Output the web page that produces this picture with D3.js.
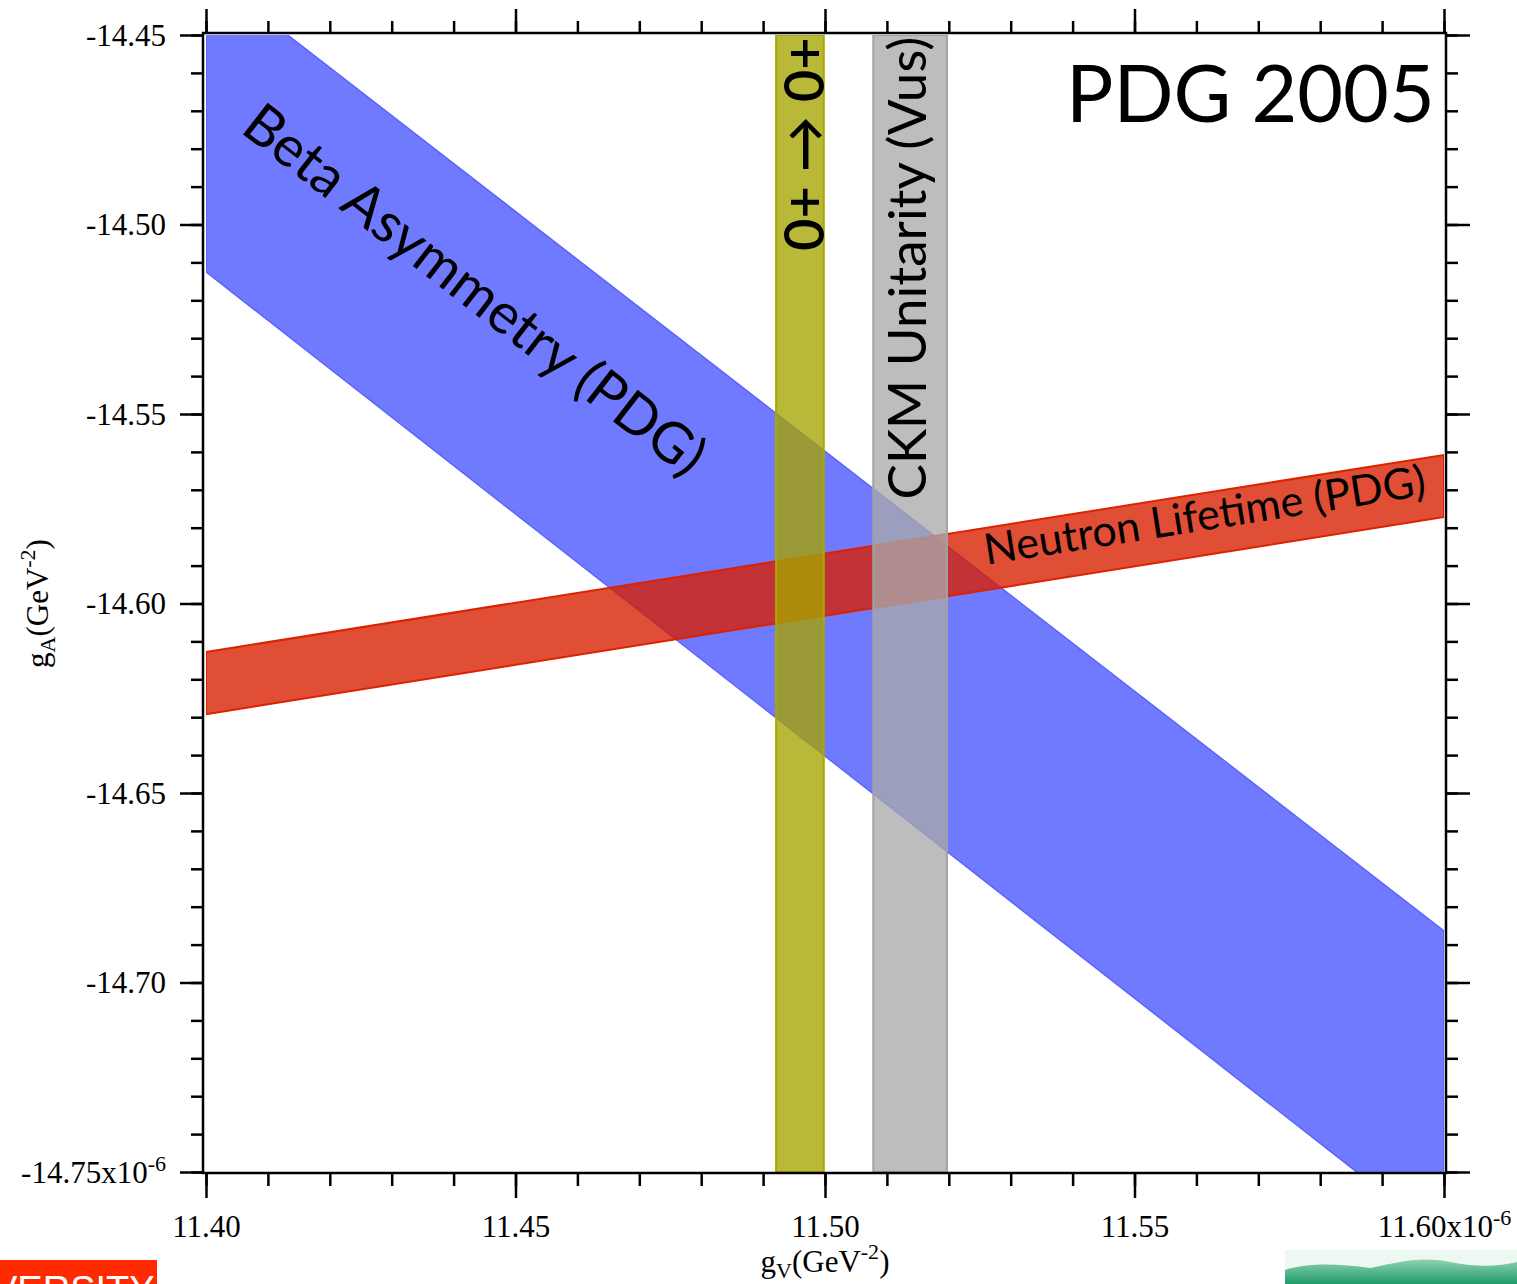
<!DOCTYPE html>
<html>
<head>
<meta charset="utf-8">
<script src="https://cdn.jsdelivr.net/npm/d3@7"></script>
<style>
  body { margin: 0; background: #fff; }
  svg { display: block; }
  .tick line { stroke: #000; stroke-width: 2.5px; }
  .tick text { font-family: "Liberation Serif", "Times New Roman", serif; font-size: 31px; fill: #000; }
  .lbl { font-family: Lato, "Open Sans", sans-serif; fill: #000; }
</style>
</head>
<body>
<div id="chart"></div>
<script>
// axis ticks
var xMajor = [11.40, 11.45, 11.50, 11.55, 11.60];
var yMajor = [-14.75, -14.70, -14.65, -14.60, -14.55, -14.50, -14.45];
var xLabels = ["11.40", "11.45", "11.50", "11.55", "11.60"];
var yLabels = ["-14.75", "-14.70", "-14.65", "-14.60", "-14.55", "-14.50", "-14.45"];

// band edges, [gV, gA] in units of 1e-6 GeV^-2
var betaUpper = [[11.40, -14.4333], [11.60, -14.6864]];
var betaLower = [[11.40, -14.5125], [11.60, -14.7680]];
var lifetimeUpper = [[11.40, -14.6128], [11.60, -14.5608]];
var lifetimeLower = [[11.40, -14.6292], [11.60, -14.5772]];
var superallowed = [11.4921, 11.4998];   // 0+ -> 0+
var ckmUnitarity = [11.5078, 11.5197];   // Vus

var W = 1517, H = 1284;
var x = d3.scaleLinear().domain([11.40, 11.60]).range([206, 1444]);
var y = d3.scaleLinear().domain([-14.75, -14.45]).range([1172, 35]);

var svg = d3.select("#chart").append("svg")
    .attr("width", W)
    .attr("height", H);

svg.append("clipPath").attr("id", "plot-clip")
    .append("rect")
    .attr("x", x(11.40)).attr("y", y(-14.45))
    .attr("width", x(11.60) - x(11.40))
    .attr("height", y(-14.75) - y(-14.45));

var plot = svg.append("g").attr("clip-path", "url(#plot-clip)");
var line = d3.line().x(function(d){ return x(d[0]); }).y(function(d){ return y(d[1]); });

function band(upper, lower){
    return line(upper.concat(lower.slice().reverse())) + "Z";
}

// Beta asymmetry
plot.append("path")
    .attr("d", band(betaUpper, betaLower))
    .attr("fill", "#707aff")
    .attr("stroke", "#5a63ff")
    .attr("stroke-width", 1.5);

// Neutron lifetime
plot.append("path")
    .attr("d", band(lifetimeUpper, lifetimeLower))
    .attr("fill", "rgb(216,31,0)")
    .attr("fill-opacity", 0.79)
    .attr("stroke", "#dc2200")
    .attr("stroke-width", 2);

// 0+ -> 0+
plot.append("rect")
    .attr("x", x(superallowed[0]))
    .attr("width", x(superallowed[1]) - x(superallowed[0]))
    .attr("y", y(-14.45))
    .attr("height", y(-14.75) - y(-14.45))
    .attr("fill", "rgb(167,164,0)")
    .attr("fill-opacity", 0.78)
    .attr("stroke", "#a9a800")
    .attr("stroke-width", 2);

// CKM unitarity
plot.append("rect")
    .attr("x", x(ckmUnitarity[0]))
    .attr("width", x(ckmUnitarity[1]) - x(ckmUnitarity[0]))
    .attr("y", y(-14.45))
    .attr("height", y(-14.75) - y(-14.45))
    .attr("fill", "rgb(169,169,169)")
    .attr("fill-opacity", 0.77)
    .attr("stroke", "#a2a2a2")
    .attr("stroke-width", 2);

// labels on the bands
svg.append("text").attr("class", "lbl")
    .attr("transform", "translate(" + x(11.4415) + "," + y(-14.5212) + ") rotate(37.8)")
    .attr("text-anchor", "middle")
    .attr("font-size", 56)
    .text("Beta Asymmetry (PDG)");

svg.append("text").attr("class", "lbl")
    .attr("transform", "translate(" + x(11.4998) + "," + y(-14.4788) + ") rotate(-90)")
    .attr("text-anchor", "middle")
    .attr("font-size", 56)
    .attr("font-weight", 600)
    .text("0+ \u2192 0+");

svg.append("text").attr("class", "lbl")
    .attr("transform", "translate(" + x(11.5163) + "," + y(-14.5115) + ") rotate(-90)")
    .attr("text-anchor", "middle")
    .attr("font-size", 53)
    .text("CKM Unitarity (Vus)");

svg.append("text").attr("class", "lbl")
    .attr("transform", "translate(" + x(11.5617) + "," + y(-14.5806) + ") rotate(-9.0)")
    .attr("text-anchor", "middle")
    .attr("font-size", 43)
    .text("Neutron Lifetime (PDG)");

svg.append("text").attr("class", "lbl")
    .attr("x", x(11.5985)).attr("y", y(-14.4730))
    .attr("text-anchor", "end")
    .attr("font-size", 79)
    .text("PDG 2005");

// axes: major + minor ticks on all four sides
var xMinor = d3.range(0, 21).map(function(i){ return +(11.40 + i * 0.01).toFixed(2); });
var yMinor = d3.range(0, 31).map(function(i){ return +(-14.75 + i * 0.01).toFixed(2); });

function addAxis(gen, tr, values, size, labels){
    var g = svg.append("g").attr("transform", tr)
        .call(gen.tickValues(values).tickSize(size).tickSizeOuter(0)
            .tickPadding(12)
            .tickFormat(labels ? function(d, i){ return labels[i]; } : ""));
    g.select(".domain").remove();
    return g;
}

var bottomY = y(-14.75), topY = y(-14.45), leftX = x(11.40), rightX = x(11.60);
addAxis(d3.axisBottom(x), "translate(0," + (bottomY + 1) + ")", xMinor, 13);
addAxis(d3.axisTop(x), "translate(0," + (topY - 2) + ")", xMinor, 12);
addAxis(d3.axisLeft(y), "translate(" + (leftX - 3) + ",0)", yMinor, 12);
addAxis(d3.axisRight(y), "translate(" + (rightX + 2) + ",0)", yMinor, 12);

var xb = addAxis(d3.axisBottom(x), "translate(0," + (bottomY + 1) + ")", xMajor, 25, xLabels);
addAxis(d3.axisTop(x), "translate(0," + (topY - 2) + ")", xMajor, 24);
var yl = addAxis(d3.axisLeft(y), "translate(" + (leftX - 3) + ",0)", yMajor, 23, yLabels);
addAxis(d3.axisRight(y), "translate(" + (rightX + 2) + ",0)", yMajor, 24);

xb.selectAll(".tick text").attr("dy", "0.87em");
yl.selectAll(".tick text").attr("dy", "0.33em").attr("x", -37);

// x10^-6 on the last labels
function addExp(sel){
    sel.append("tspan").text("x10");
    sel.append("tspan").attr("dy", "-0.55em").attr("font-size", 22).text("-6");
}
xb.selectAll(".tick text").filter(function(d){ return d === 11.60; }).call(addExp);
yl.selectAll(".tick text").filter(function(d){ return d === -14.75; }).call(addExp);

// frame
svg.append("rect")
    .attr("x", leftX - 3).attr("y", topY - 2)
    .attr("width", rightX - leftX + 5)
    .attr("height", bottomY - topY + 3)
    .attr("fill", "none")
    .attr("stroke", "#000")
    .attr("stroke-width", 2.5);

// axis titles
var xt = svg.append("text")
    .attr("x", x(11.50)).attr("y", 1272)
    .attr("text-anchor", "middle")
    .attr("font-family", "'Liberation Serif', serif")
    .attr("font-size", 31);
xt.append("tspan").text("g");
xt.append("tspan").attr("dy", 6).attr("font-size", 22).text("V");
xt.append("tspan").attr("dy", -6).text("(GeV");
xt.append("tspan").attr("dy", -13).attr("font-size", 22).text("-2");
xt.append("tspan").attr("dy", 13).text(")");

var yt = svg.append("text")
    .attr("transform", "translate(48," + y(-14.6) + ") rotate(-90)")
    .attr("text-anchor", "middle")
    .attr("font-family", "'Liberation Serif', serif")
    .attr("font-size", 31);
yt.append("tspan").text("g");
yt.append("tspan").attr("dy", 7).attr("font-size", 22).text("A");
yt.append("tspan").attr("dy", -7).text("(GeV");
yt.append("tspan").attr("dy", -13).attr("font-size", 22).text("-2");
yt.append("tspan").attr("dy", 13).text(")");

// slide decorations at the bottom edge
svg.append("rect").attr("x", 0).attr("y", 1260).attr("width", 157).attr("height", 24).attr("fill", "#ff2a00");
svg.append("text").attr("x", -8).attr("y", 1303)
    .attr("font-family", "'Liberation Sans', sans-serif")
    .attr("font-size", 38).attr("fill", "#fff")
    .text("VERSITY");

var grad = svg.append("defs").append("linearGradient").attr("id", "hill").attr("x1", 0).attr("x2", 0).attr("y1", 0).attr("y2", 1);
grad.append("stop").attr("offset", "0%").attr("stop-color", "#8fd3b0");
grad.append("stop").attr("offset", "100%").attr("stop-color", "#1f9a68");
svg.append("rect").attr("x", 1285).attr("y", 1250).attr("width", 232).attr("height", 34).attr("fill", "#eef8f2");
svg.append("path")
    .attr("d", "M1285,1284 L1285,1270 C1310,1262 1340,1264 1370,1268 C1400,1262 1420,1256 1450,1262 C1480,1268 1500,1266 1517,1262 L1517,1284 Z")
    .attr("fill", "url(#hill)");
</script>
</body>
</html>
